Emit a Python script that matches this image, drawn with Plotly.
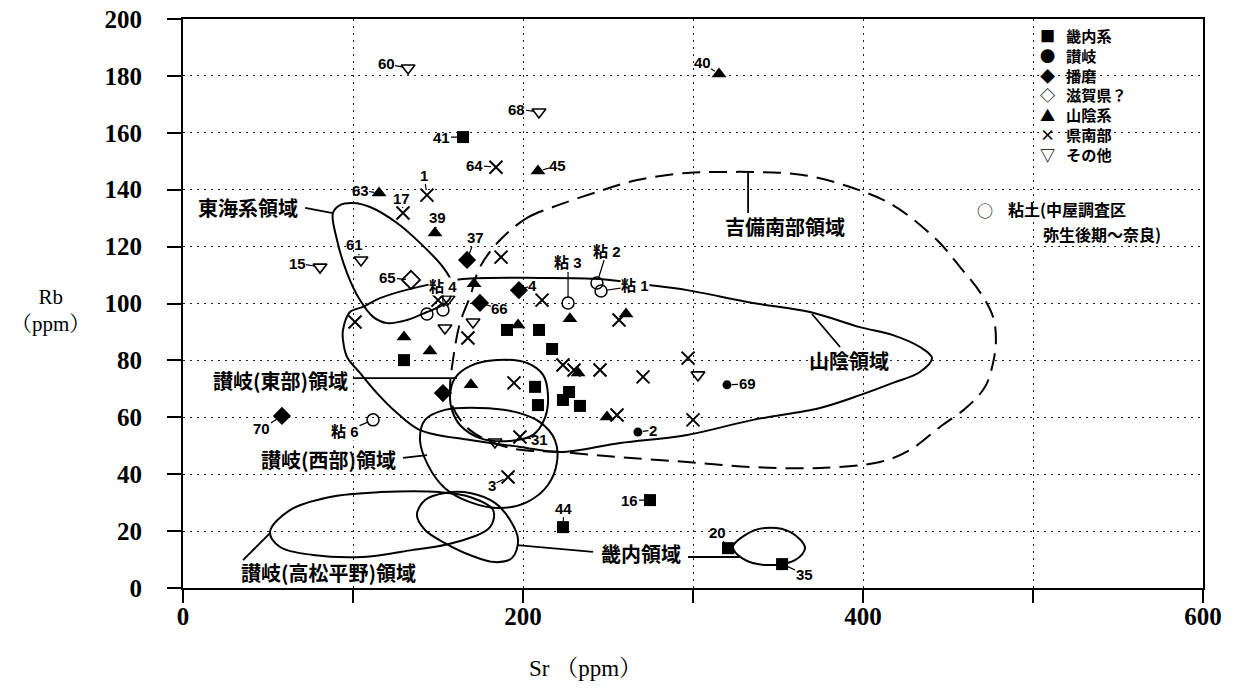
import plotly.graph_objects as go

# ---------------- measurements: Sr (x) and Rb (y), ppm ----------------
kinai_sr = [164.7, 130.0, 190.6, 209.4, 217.1, 207.1, 227.1, 223.5, 233.5, 208.8, 223.5, 274.7, 320.6, 352.4]
kinai_rb = [158.5, 80.1, 90.7, 90.7, 84.0, 70.7, 68.9, 66.1, 64.0, 64.3, 21.4, 30.9, 14.0, 8.4]
kinai_id = ["41", "", "", "", "", "", "", "", "", "", "44", "16", "20", "35"]

sanuki_sr = [267.6, 320.0]
sanuki_rb = [54.8, 71.4]
sanuki_id = ["2", "69"]

harima_sr = [167.1, 197.6, 174.7, 152.9, 58.2]
harima_rb = [115.3, 104.7, 100.2, 68.5, 60.5]
harima_id = ["37", "4", "66", "", "70"]

shiga_sr = [134.1]
shiga_rb = [108.3]
shiga_id = ["65"]

sanin_sr = [315.3, 208.8, 115.3, 148.2, 171.2, 130.0, 145.3, 197.1, 227.6, 260.6, 232.4, 169.4, 249.4]
sanin_rb = [180.7, 146.6, 138.8, 124.8, 106.9, 88.2, 83.3, 92.4, 94.6, 96.3, 75.6, 71.4, 60.1]
sanin_id = ["40", "45", "63", "39", "", "", "", "", "", "", "", "", ""]

south_sr = [184.1, 143.5, 129.4, 187.1, 150.0, 101.2, 167.6, 211.2, 256.5, 223.5, 230.0,
            245.3, 270.6, 297.1, 194.7, 255.3, 300.0, 198.2, 191.2]
south_rb = [147.9, 138.1, 131.8, 116.3, 101.2, 93.5, 87.9, 101.2, 94.2, 78.4, 76.6,
            76.6, 74.2, 80.8, 72.1, 60.8, 59.1, 53.1, 39.0]
south_id = ["64", "1", "17", "", "", "", "", "", "", "", "", "", "", "", "", "", "", "31", "3"]

other_sr = [132.4, 209.4, 104.7, 80.6, 155.9, 154.1, 170.6, 302.9, 183.5]
other_rb = [182.8, 167.3, 115.3, 112.8, 101.6, 91.4, 93.5, 74.9, 51.3]
other_id = ["60", "68", "61", "15", "", "", "", "", ""]

clay_sr = [245.9, 243.5, 226.5, 152.9, 143.5, 111.8]
clay_rb = [104.4, 107.2, 100.2, 97.7, 96.3, 59.1]
clay_id = ["粘 1", "粘 2", "粘 3", "粘 4", "", "粘 6"]

# ---------------- region boundaries (Sr, Rb) ----------------
tokai_sr = [88.2, 92.4, 100.0, 110.0, 125.9, 139.4, 152.9, 158.2, 157.1, 152.9, 143.5, 131.8, 120.0, 111.8, 104.1, 96.5, 90.6]
tokai_rb = [131.8, 134.6, 135.3, 133.9, 128.3, 121.3, 112.8, 107.2, 101.9, 99.5, 97.0, 94.2, 93.1, 95.3, 101.2, 110.7, 122.3]

sanin_reg_sr = [440.6, 433.5, 417.6, 398.2, 374.7, 335.3, 296.5, 257.1, 221.8, 198.2, 168.8, 139.4, 125.9, 114.1,
                104.1, 96.5, 94.1, 94.1, 98.2, 105.9, 115.9, 141.2, 164.7, 210.0, 245.3, 277.6, 296.5, 335.3,
                368.8, 398.2, 417.6, 433.5]
sanin_reg_rb = [80.8, 75.9, 72.1, 67.8, 63.3, 59.1, 53.8, 51.0, 47.8, 49.6, 52.0, 55.5, 61.5, 68.5,
                75.6, 81.2, 87.2, 90.7, 97.0, 98.8, 101.9, 106.2, 108.6, 109.0, 108.6, 106.2, 104.7, 100.2,
                97.0, 91.7, 88.9, 84.7]

kibi_sr = [186.5, 202.4, 217.6, 247.1, 267.1, 296.5, 315.9, 335.3, 364.7, 394.1, 417.6, 443.5, 457.1, 468.8,
           476.5, 478.2, 476.5, 471.8, 461.2, 445.3, 427.6, 410.0, 374.7, 335.3, 296.5, 257.1, 221.8, 192.4,
           168.8, 158.2, 157.1, 158.8, 162.9, 168.8, 174.7]
kibi_rb = [122.3, 130.1, 133.9, 139.9, 143.4, 145.9, 146.2, 146.2, 145.2, 140.6, 134.6, 122.3, 112.8, 104.0,
           95.3, 87.2, 79.1, 70.7, 63.6, 56.6, 48.5, 44.3, 42.2, 42.5, 44.3, 46.0, 47.8, 49.2,
           55.5, 64.3, 70.7, 80.1, 93.1, 102.3, 112.8]

east_sr = [157.1, 160.0, 168.8, 184.7, 202.4, 211.8, 214.7, 212.9, 205.9, 192.4, 174.7, 162.9, 158.2]
east_rb = [67.8, 73.8, 78.0, 80.1, 79.1, 74.9, 67.8, 59.8, 53.8, 51.7, 52.7, 57.3, 62.6]

west_sr = [139.4, 142.4, 154.1, 174.7, 195.3, 210.0, 218.8, 220.0, 214.7, 202.4, 186.5, 168.8, 154.1, 144.1]
west_rb = [52.0, 59.1, 62.6, 63.3, 61.9, 58.3, 52.0, 44.3, 36.2, 30.2, 28.1, 30.2, 35.1, 43.2]

takamatsu_sr = [51.2, 62.9, 86.5, 115.9, 151.2, 168.8, 182.4, 180.6, 158.8, 135.3, 105.9, 76.5, 57.1]
takamatsu_rb = [19.7, 27.4, 32.0, 33.7, 33.7, 32.0, 27.4, 21.4, 15.8, 13.4, 10.9, 11.6, 14.4]

kinai_a_sr = [137.6, 142.4, 154.1, 168.8, 183.5, 192.4, 197.1, 193.5, 183.5, 168.8, 154.1, 142.4]
kinai_a_rb = [25.7, 30.9, 33.4, 33.4, 29.9, 23.9, 16.9, 10.5, 9.1, 11.6, 15.8, 20.4]

kinai_b_sr = [323.5, 330.6, 342.4, 357.1, 365.9, 360.0, 342.4, 328.8]
kinai_b_rb = [14.4, 18.6, 21.1, 19.7, 14.1, 9.8, 8.1, 10.5]

# region names with their label anchor (Sr, Rb)
region_names = ["東海系領域", "吉備南部領域", "山陰領域", "讃岐(東部)領域", "讃岐(西部)領域", "讃岐(高松平野)領域", "畿内領域"]
region_label_sr = [38.5, 354.0, 392.0, 57.5, 85.5, 85.5, 269.4]
region_label_rb = [133.6, 127.2, 80.1, 72.8, 45.0, 5.3, 12.3]

# leader lines from region labels: (Sr0, Rb0, Sr1, Rb1)
region_leaders = [
    (71.8, 133.6, 88.2, 131.8),
    (332.4, 146.2, 332.4, 131.8),
    (370.0, 96.3, 386.5, 84.7),
    (100.0, 73.8, 161.2, 73.8),
    (129.4, 45.7, 143.5, 46.7),
    (35.3, 9.8, 51.2, 19.3),
    (196.5, 15.1, 241.2, 12.7),
    (297.1, 10.9, 327.6, 10.9),
]

# text offsets (px) of the sample numbers from their markers
label_offset = {
    "41": (-21, 0), "44": (1, -19), "16": (-20, 0), "20": (-11, -16), "35": (22, 10),
    "2": (15, -2), "69": (20, -1),
    "37": (8, -22), "4": (14, -5), "66": (20, 6), "70": (-20, 13),
    "65": (-23, -2),
    "40": (-17, -11), "45": (20, -5), "63": (-19, -3), "39": (3, -15),
    "64": (-21, -2), "1": (-3, -20), "17": (-1, -15), "31": (20, 3), "3": (-16, 8),
    "60": (-22, -4), "68": (-22, -3), "61": (-6, -15), "15": (-23, -4),
    "粘 1": (34, -5), "粘 2": (10, -32), "粘 3": (0, -40), "粘 4": (0, -24), "粘 6": (-28, 12),
}

legend_names = ["畿内系", "讃岐", "播磨", "滋賀県？", "山陰系", "県南部", "その他"]
legend_glyphs = ["■", "●", "◆", "◇", "▲", "×", "▽"]
clay_legend_lines = ["粘土(中屋調査区", "弥生後期～奈良)"]

series = [
    (kinai_sr, kinai_rb, kinai_id, dict(symbol="square", size=12, color="black")),
    (sanuki_sr, sanuki_rb, sanuki_id, dict(symbol="circle", size=9, color="black")),
    (harima_sr, harima_rb, harima_id, dict(symbol="diamond", size=14, color="black")),
    (shiga_sr, shiga_rb, shiga_id, dict(symbol="diamond-open", size=14, color="black", line=dict(color="black", width=1.8))),
    (sanin_sr, sanin_rb, sanin_id, dict(symbol="triangle-up", size=13, color="black")),
    (south_sr, south_rb, south_id, dict(symbol="x-thin-open", size=13, color="black", line=dict(color="black", width=2))),
    (other_sr, other_rb, other_id, dict(symbol="triangle-down-open", size=12, color="black", line=dict(color="black", width=1.6))),
    (clay_sr, clay_rb, clay_id, dict(symbol="circle-open", size=12, color="black", line=dict(color="black", width=1.5))),
]

# plot-area geometry in page pixels
W, H = 1237, 688
ML, MR, MT, MB = 183, 34, 19, 100
PW, PH = W - ML - MR, H - MT - MB


def px_to_paper(px, py):
    return (px - ML) / PW, (H - MB - py) / PH


fig = go.Figure()

# region outlines
for sr, rb, dash in [
    (tokai_sr, tokai_rb, "solid"),
    (sanin_reg_sr, sanin_reg_rb, "solid"),
    (kibi_sr, kibi_rb, "18px,9px"),
    (east_sr, east_rb, "solid"),
    (west_sr, west_rb, "solid"),
    (takamatsu_sr, takamatsu_rb, "solid"),
    (kinai_a_sr, kinai_a_rb, "solid"),
    (kinai_b_sr, kinai_b_rb, "solid"),
]:
    fig.add_trace(go.Scatter(
        x=sr + sr[:1], y=rb + rb[:1], mode="lines",
        line=dict(color="black", width=2, shape="spline", smoothing=1.0, dash=dash),
        hoverinfo="skip", showlegend=False))

# sample markers
for sr, rb, ids, mk in series:
    fig.add_trace(go.Scatter(x=sr, y=rb, mode="markers", marker=mk,
                             hoverinfo="skip", showlegend=False))

annotations = []

# sample numbers
for sr, rb, ids, mk in series:
    for x, y, t in zip(sr, rb, ids):
        if not t:
            continue
        ax, ay = label_offset[t]
        clay = t.startswith("粘")
        annotations.append(dict(
            x=x, y=y, xref="x", yref="y", text=t, showarrow=True,
            ax=ax, ay=ay, arrowhead=0, arrowwidth=1.2, arrowcolor="black", standoff=5,
            bgcolor="white" if clay else "rgba(0,0,0,0)", borderpad=0,
            font=dict(family="Liberation Sans, Noto Sans CJK JP", size=15, color="black", weight="bold")))

# region names
for name, x, y in zip(region_names, region_label_sr, region_label_rb):
    annotations.append(dict(
        x=x, y=y, xref="x", yref="y", text=name, showarrow=False,
        font=dict(family="Noto Sans CJK JP", size=20, color="black", weight="bold")))

# legend block: one column of symbols, one column of names (line pitch = 1.3 * font size)
LEG_FONT = 15.2
gx, gy = px_to_paper(1047, 94)
tx, _ = px_to_paper(1064, 94)
annotations.append(dict(x=gx, y=gy, xref="paper", yref="paper", text="<br>".join(legend_glyphs),
                        showarrow=False, xanchor="center", yanchor="middle", align="center",
                        font=dict(family="Noto Sans CJK JP", size=LEG_FONT, color="black", weight="bold")))
annotations.append(dict(x=tx, y=gy, xref="paper", yref="paper", text="<br>".join(legend_names),
                        showarrow=False, xanchor="left", yanchor="middle", align="left",
                        font=dict(family="Noto Sans CJK JP", size=LEG_FONT, color="black", weight="bold")))

# clay samples entry
cx, cy = px_to_paper(985, 210)
annotations.append(dict(x=cx, y=cy, xref="paper", yref="paper", text="○", showarrow=False,
                        xanchor="center", yanchor="middle",
                        font=dict(family="Noto Sans CJK JP", size=16, color="black")))
for line_text, lx, ly in zip(clay_legend_lines, [1006, 1041], [209.5, 233.5]):
    px_, py_ = px_to_paper(lx, ly)
    annotations.append(dict(x=px_, y=py_, xref="paper", yref="paper", text=line_text,
                            showarrow=False, xanchor="left", yanchor="middle",
                            font=dict(family="Noto Sans CJK JP", size=16, color="black", weight="bold")))

# axis titles
rx, ry = px_to_paper(50, 310)
annotations.append(dict(x=rx, y=ry, xref="paper", yref="paper", text="Rb<br>（ppm）", showarrow=False,
                        xanchor="center", yanchor="middle", align="center",
                        font=dict(family="Liberation Serif, Noto Serif CJK JP, Noto Sans CJK JP", size=21, color="black")))
sx, sy = px_to_paper(585, 668)
annotations.append(dict(x=sx, y=sy, xref="paper", yref="paper", text="Sr （ppm）", showarrow=False,
                        xanchor="center", yanchor="middle",
                        font=dict(family="Liberation Serif, Noto Serif CJK JP, Noto Sans CJK JP", size=23, color="black")))

shapes = []
for x0, y0, x1, y1 in region_leaders:
    shapes.append(dict(type="line", xref="x", yref="y", x0=x0, y0=y0, x1=x1, y1=y1,
                       line=dict(color="black", width=1.8)))

# white panel behind the legend block
lx0, ly0 = px_to_paper(1036, 164)
lx1, ly1 = px_to_paper(1150, 24)
shapes.append(dict(type="rect", xref="paper", yref="paper", x0=lx0, y0=ly0, x1=lx1, y1=ly1,
                   fillcolor="white", line=dict(width=0), layer="between"))

x_ticks = [0, 100, 200, 300, 400, 500, 600]
x_text = ["0", "", "200", "", "400", "", "600"]
y_ticks = [0, 20, 40, 60, 80, 100, 120, 140, 160, 180, 200]

fig.update_layout(
    width=W, height=H,
    margin=dict(l=ML, r=MR, t=MT, b=MB, autoexpand=False),
    paper_bgcolor="white", plot_bgcolor="white",
    showlegend=False, hovermode=False,
    annotations=annotations, shapes=shapes,
)
fig.update_xaxes(
    range=[0, 600], tickvals=x_ticks, ticktext=x_text, automargin=False,
    ticks="outside", ticklen=13, tickwidth=2, tickcolor="black",
    showline=True, linewidth=2, linecolor="black", mirror=True,
    showgrid=True, gridcolor="#222", gridwidth=1.3, griddash="2px,5px", zeroline=False,
    ticklabelstandoff=-8,
    tickfont=dict(family="Liberation Serif", size=25, color="black", weight="bold"),
)
fig.update_yaxes(
    range=[0, 200], tickvals=y_ticks, automargin=False,
    ticks="outside", ticklen=14, tickwidth=2, tickcolor="black",
    showline=True, linewidth=2, linecolor="black", mirror=True,
    showgrid=True, gridcolor="#222", gridwidth=1.3, griddash="2px,5px", zeroline=False,
    ticklabelstandoff=20,
    tickfont=dict(family="Liberation Serif", size=25, color="black", weight="bold"),
)

fig.write_html("out.html")
